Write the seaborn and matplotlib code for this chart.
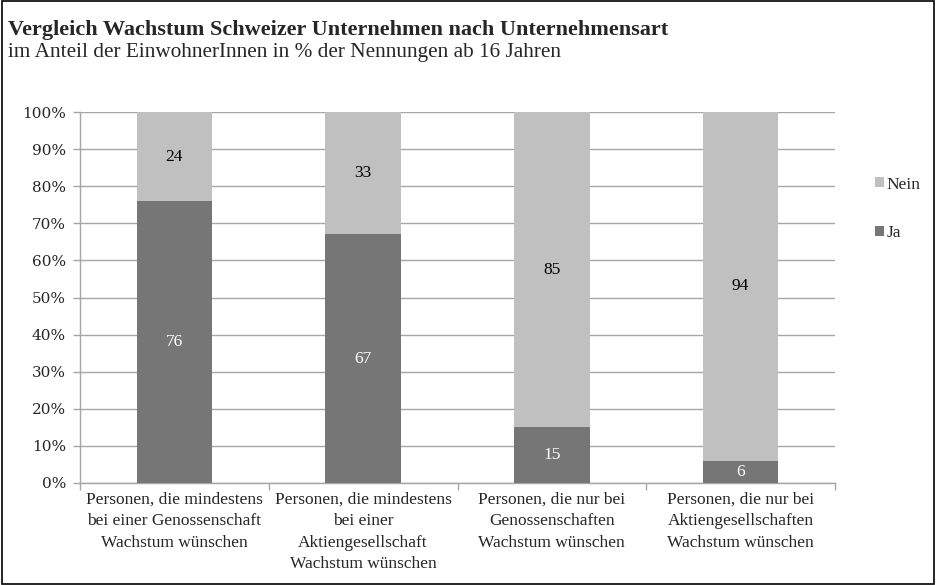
import matplotlib
matplotlib.use("Agg")
import matplotlib.pyplot as plt
import seaborn as sns
import pandas as pd
import numpy as np
from matplotlib.patches import Rectangle
from matplotlib.ticker import FixedLocator, PercentFormatter

categories = [
    "Personen, die mindestens\nbei einer Genossenschaft\nWachstum wünschen",
    "Personen, die mindestens\nbei einer\nAktiengesellschaft\nWachstum wünschen",
    "Personen, die nur bei\nGenossenschaften\nWachstum wünschen",
    "Personen, die nur bei\nAktiengesellschaften\nWachstum wünschen",
]
ja = [76, 67, 15, 6]
nein = [24, 33, 85, 94]
series_names = ["Nein", "Ja"]
yticks = [0, 10, 20, 30, 40, 50, 60, 70, 80, 90, 100]

title = "Vergleich Wachstum Schweizer Unternehmen nach Unternehmensart"
subtitle = "im Anteil der EinwohnerInnen in % der Nennungen ab 16 Jahren"

c_ja = "#767676"
c_nein = "#c0c0c0"
grid_c = "#a6a6a6"

sns.set_theme(style="white")
plt.rcParams["font.family"] = ["Liberation Serif", "DejaVu Serif"]

df = pd.DataFrame({"cat": categories, "Ja": ja, "Nein": nein})
df["total"] = df["Ja"] + df["Nein"]

fig = plt.figure(figsize=(9.36, 5.85), dpi=100)
ax = fig.add_axes([80 / 936, 1 - 483 / 585, (835 - 80) / 936, (483 - 112) / 585])

sns.barplot(data=df, x="cat", y="total", color=c_nein, width=0.4, ax=ax,
            saturation=1, zorder=3, label="Nein", linewidth=0, edgecolor="none")
sns.barplot(data=df, x="cat", y="Ja", color=c_ja, width=0.4, ax=ax,
            saturation=1, zorder=4, label="Ja", linewidth=0, edgecolor="none")
if ax.get_legend() is not None:
    ax.get_legend().remove()

ax.set_ylim(0, 100)
ax.set_xlim(-0.5, len(categories) - 0.5)
ax.yaxis.set_major_locator(FixedLocator(yticks))
ax.yaxis.set_major_formatter(PercentFormatter(decimals=0))
ax.grid(axis="y", color=grid_c, linewidth=1, zorder=0)
ax.set_axisbelow(True)
ax.set_xlabel("")
ax.set_ylabel("")

for s in ["top", "right"]:
    ax.spines[s].set_visible(False)
for s in ["left", "bottom"]:
    ax.spines[s].set_color(grid_c)
    ax.spines[s].set_linewidth(1)

ax.tick_params(axis="y", which="major", left=True, length=5, width=1, color=grid_c, pad=5)
for lab in ax.get_yticklabels():
    lab.set_fontfamily(["DejaVu Serif"])
    lab.set_fontsize(11)
ax.set_xticks(np.arange(-0.5, len(categories), 1.0), minor=True)
ax.tick_params(axis="x", which="minor", bottom=True, length=5, width=1, color=grid_c)
ax.set_xticks(range(len(categories)))
ax.set_xticklabels(categories, fontsize=12.5, linespacing=1.47)
ax.tick_params(axis="x", which="major", bottom=False, length=0, pad=6)

# data labels
for i in range(len(categories)):
    ax.text(i, ja[i] / 2, str(ja[i]), ha="center", va="center", color="white",
            fontsize=12.5, zorder=5)
    ax.text(i, ja[i] + nein[i] / 2, str(nein[i]), ha="center", va="center",
            color="black", fontsize=12.5, zorder=5)

# legend
h, l = ax.get_legend_handles_labels()
order = [l.index(n) for n in series_names]
fig.legend([h[k] for k in order], [l[k] for k in order],
           loc="center left", bbox_to_anchor=(875 / 936, 1 - 209 / 585),
           frameon=False, fontsize=12.5, handlelength=0.5, handleheight=0.5,
           handletextpad=0.15, labelspacing=1.9, borderpad=0, borderaxespad=0)

fig.text(8 / 936, 1 - 30 / 585, title, fontsize=16, fontweight="bold",
         ha="left", va="center")
fig.text(8 / 936, 1 - 52 / 585, subtitle, fontsize=15.3, ha="left", va="center")

fig.patches.append(Rectangle((0.002, 0.002), 0.996, 0.996, transform=fig.transFigure,
                             fill=False, edgecolor="black", linewidth=1.2))

fig.savefig("out.png", dpi=100)
